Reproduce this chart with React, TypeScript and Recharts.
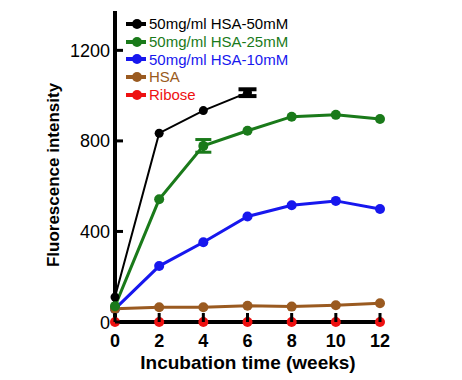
import { LineChart, Line, XAxis, YAxis, ErrorBar, Label } from 'recharts';

const weeks = [0, 2, 4, 6, 8, 10, 12];
const hsa50 = [110, 834, 934, 1013, null, null, null];
const hsa50Err = [undefined, undefined, undefined, 15, undefined, undefined, undefined];
const hsa25 = [70, 542, 778, 845, 907, 915, 897];
const hsa25Err = [undefined, undefined, 28, undefined, undefined, undefined, undefined];
const hsa10 = [58, 247, 352, 466, 516, 535, 499];
const hsaOnly = [58, 65, 65, 72, 68, 74, 83];
const ribose = [0, 0, 0, 0, 0, 0, 0];

const yTicks = [0, 400, 800, 1200];
const xTicks = [0, 2, 4, 6, 8, 10, 12];

const data = weeks.map((w, i) => ({
  week: w,
  hsa50: hsa50[i],
  hsa50Err: hsa50Err[i],
  hsa25: hsa25[i],
  hsa25Err: hsa25Err[i],
  hsa10: hsa10[i],
  hsa: hsaOnly[i],
  ribose: ribose[i],
}));

const series = [
  { key: 'hsa50', name: '50mg/ml HSA-50mM', color: '#000000' },
  { key: 'hsa25', name: '50mg/ml HSA-25mM', color: '#1a7a1a' },
  { key: 'hsa10', name: '50mg/ml HSA-10mM', color: '#1717ee' },
  { key: 'hsa', name: 'HSA', color: '#9a5a20' },
  { key: 'ribose', name: 'Ribose', color: '#ee1111' },
];

const FONT = '"Liberation Sans", Arial, sans-serif';

function XTick(props: any) {
  const { x, y, payload } = props;
  return (
    <g>
      <line x1={x} y1={y} x2={x} y2={y - 9} stroke="#000" strokeWidth={3} />
      <text x={x} y={y + 25} textAnchor="middle" fontFamily={FONT} fontSize={18} fontWeight="bold" fill="#000">
        {payload.value}
      </text>
    </g>
  );
}

function YTick(props: any) {
  const { x, y, payload } = props;
  return (
    <g>
      <line x1={x} y1={y} x2={x + 8} y2={y} stroke="#000" strokeWidth={3} />
      <text x={x - 5} y={y + 6.5} textAnchor="end" fontFamily={FONT} fontSize={18} fill="#000">
        {payload.value}
      </text>
    </g>
  );
}

function YTitle() {
  return (
    <text
      x={53}
      y={175}
      transform="rotate(-90 53 175)"
      textAnchor="middle"
      dominantBaseline="central"
      fontFamily={FONT}
      fontSize={17}
      fontWeight="bold"
      fill="#000"
    >
      Fluorescence intensity
    </text>
  );
}

function XTitle() {
  return (
    <text x={248} y={369} textAnchor="middle" fontFamily={FONT} fontSize={19} fontWeight="bold" fill="#000">
      Incubation time (weeks)
    </text>
  );
}

function LegendBox() {
  return (
    <div style={{ position: 'absolute', left: 125, top: 15, fontFamily: FONT, fontSize: 15 }}>
      {series.map((s) => (
        <div key={s.key} style={{ display: 'flex', alignItems: 'center', height: 17.7, color: s.color }}>
          <svg width={24} height={12} style={{ display: 'block' }}>
            <line x1={1} y1={6} x2={21} y2={6} stroke={s.color} strokeWidth={4} />
            <circle cx={12} cy={6} r={5} fill={s.color} />
          </svg>
          <span style={{ whiteSpace: 'nowrap', lineHeight: '17px' }}>{s.name}</span>
        </div>
      ))}
    </div>
  );
}

export default function App() {
  const axisLine = { stroke: '#000', strokeWidth: 4, strokeLinecap: 'square' as const };
  return (
    <div style={{ position: 'absolute', left: 0, top: 0, width: 462, height: 380 }}>
      <LineChart width={462} height={380} data={data} margin={{ top: 13, right: 82, bottom: 8, left: 55 }}>
        <XAxis
          dataKey="week"
          type="number"
          domain={[0, 12]}
          ticks={xTicks}
          axisLine={axisLine}
          tickLine={false}
          tickSize={0}
          tickMargin={0}
          tick={<XTick />}
          height={50}
          interval={0}
        >
          <Label content={<XTitle />} />
        </XAxis>
        <XAxis xAxisId="top" orientation="top" dataKey="week" type="number" domain={[0, 12]} height={0} tick={false} tickLine={false} axisLine={axisLine} />
        <YAxis
          domain={[0, 1365]}
          ticks={yTicks}
          axisLine={axisLine}
          tickLine={false}
          tickSize={0}
          tickMargin={0}
          tick={<YTick />}
          width={60}
          interval={0}
        >
          <Label content={<YTitle />} />
        </YAxis>
        <YAxis yAxisId="right" orientation="right" domain={[0, 1365]} width={0} tick={false} tickLine={false} axisLine={axisLine} />
        <Line dataKey="hsa50" stroke="#000000" strokeWidth={2} dot={{ r: 4.5, fill: '#000000', strokeWidth: 0 }} isAnimationActive={false}>
          <ErrorBar dataKey="hsa50Err" width={9} stroke="#000000" strokeWidth={4} direction="y" />
        </Line>
        <Line dataKey="hsa10" stroke="#1717ee" strokeWidth={3} dot={{ r: 5, fill: '#1717ee', strokeWidth: 0 }} isAnimationActive={false} />
        <Line dataKey="hsa" stroke="#9a5a20" strokeWidth={3} dot={{ r: 5, fill: '#9a5a20', strokeWidth: 0 }} isAnimationActive={false} />
        <Line dataKey="ribose" stroke="#ee1111" strokeWidth={3} dot={{ r: 5, fill: '#ee1111', strokeWidth: 0 }} isAnimationActive={false} />
        <Line dataKey="hsa25" stroke="#1a7a1a" strokeWidth={3} dot={{ r: 5, fill: '#1a7a1a', strokeWidth: 0 }} isAnimationActive={false}>
          <ErrorBar dataKey="hsa25Err" width={8} stroke="#1a7a1a" strokeWidth={3} direction="y" />
        </Line>
      </LineChart>
      <LegendBox />
    </div>
  );
}
